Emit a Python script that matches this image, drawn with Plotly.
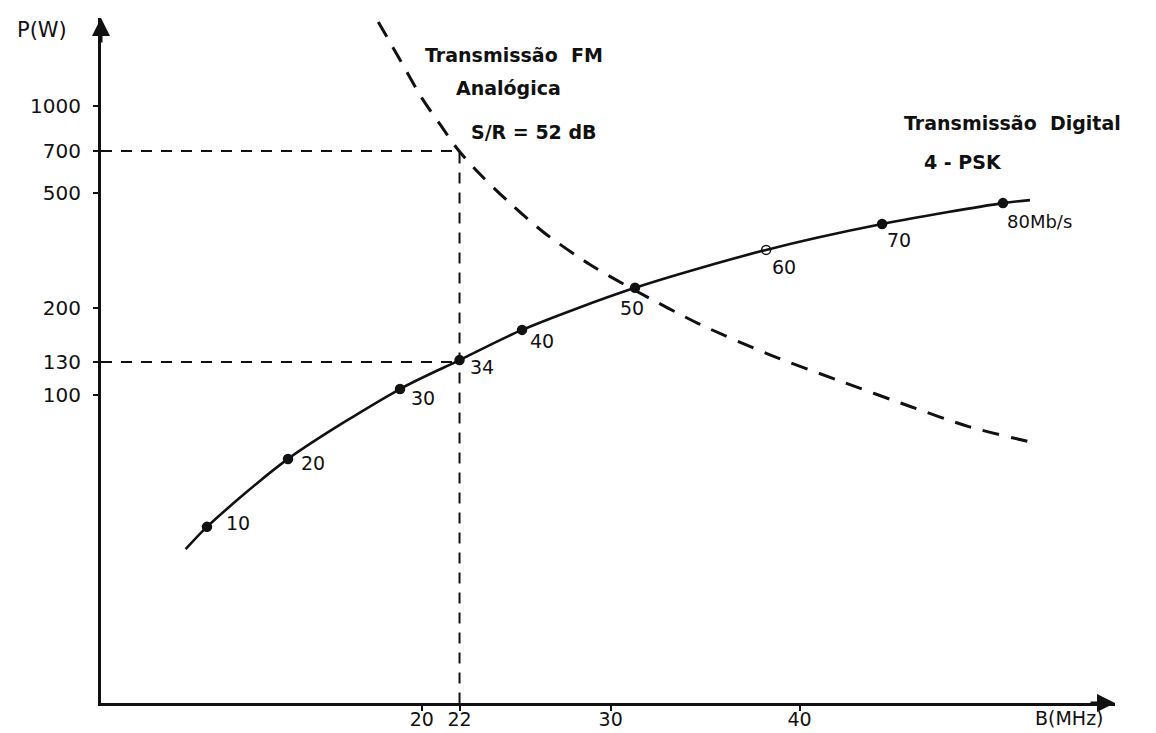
import math
import plotly.graph_objects as go

# ---------------- data ----------------
# 4-PSK digital transmission: bit-rate labels, bandwidth B (MHz), power P (W)
bitrate_labels = ["10", "20", "30", "34", "40", "50", "60", "70", "80Mb/s"]
digital_B = [8.63, 12.92, 18.85, 22.0, 25.31, 31.29, 38.23, 44.37, 50.77]
digital_P = [34.9, 60.0, 104.8, 132.0, 168.0, 235.0, 318.0, 391.0, 462.0]
# ends of the drawn digital curve (beyond the marked points)
digital_start_B, digital_start_P = 7.5, 29.2
digital_end_B, digital_end_P = 52.2, 473.0

# analog FM transmission curve, S/R = 52 dB
fm_B = [17.7, 18.9, 20.0, 21.0, 21.9, 23.1, 24.7, 26.5, 28.9, 31.3, 34.7, 38.4, 42.1, 45.9, 49.0, 52.3]
fm_P = [1960, 1430, 1070, 860, 710, 580, 460, 364, 283, 230, 176, 138, 112, 91, 77.5, 68.5]

# comparison point
ref_B = 22
ref_P_fm = 700
ref_P_digital = 130

x_tickvals = [20, 22, 30, 40]
y_tickvals = [100, 130, 200, 500, 700, 1000]

# ---------------- layout constants ----------------
PAGE_OFF = 8                      # body margin of the page
W, H = 1140, 725
# plot area wanted on screen: x 101..1115, y 18..703
ML, MT = 101 - PAGE_OFF, 18 - PAGE_OFF
MR = W - (1115 - PAGE_OFF)
MB = H - (703 - PAGE_OFF)
X_MIN, X_MAX = 3.02, 56.7
YL_MIN, YL_MAX = 0.9324, 3.306
FONT = "DejaVu Sans"
INK = "#111111"


def paper_x(px):
    return (px - 101) / (1115 - 101)


def paper_y(py):
    return (703 - py) / (703 - 18)


fig = go.Figure()

# dashed reference lines (700 W / 130 W at 22 MHz)
fig.add_trace(go.Scatter(
    x=[X_MIN, ref_B, ref_B], y=[ref_P_fm, ref_P_fm, 10 ** YL_MIN],
    mode="lines", line=dict(color=INK, width=2, dash="11px,9px"),
    hoverinfo="skip", showlegend=False))
fig.add_trace(go.Scatter(
    x=[X_MIN, ref_B], y=[ref_P_digital, ref_P_digital],
    mode="lines", line=dict(color=INK, width=2, dash="11px,9px"),
    hoverinfo="skip", showlegend=False))

# analog FM curve
fig.add_trace(go.Scatter(
    x=fm_B, y=fm_P, mode="lines",
    line=dict(color=INK, width=3, dash="17px,12px", shape="spline", smoothing=0.8),
    showlegend=False))

# digital 4-PSK curve
fig.add_trace(go.Scatter(
    x=[digital_start_B] + digital_B + [digital_end_B],
    y=[digital_start_P] + digital_P + [digital_end_P],
    mode="lines", line=dict(color=INK, width=2.6, shape="spline", smoothing=0.8),
    showlegend=False))

symbols = ["circle"] * len(digital_B)
symbols[bitrate_labels.index("60")] = "circle-open"
fig.add_trace(go.Scatter(
    x=digital_B, y=digital_P, mode="markers",
    marker=dict(color=INK, size=9, symbol=symbols, line=dict(color=INK, width=1.5)),
    showlegend=False))

# point labels (pixel offsets: right, down)
label_offsets = [(31, -4), (25, 4), (23, 9), (22, 7), (20, 11), (-3, 20), (18, 17), (17, 16), (37, 18)]
annotations = []
for lab, b, p, (dx, dy) in zip(bitrate_labels, digital_B, digital_P, label_offsets):
    annotations.append(dict(
        x=b, y=math.log10(p), xref="x", yref="y", text=lab, showarrow=False,
        xshift=dx, yshift=-dy, font=dict(family=FONT, size=19 if lab != "80Mb/s" else 18, color=INK)))

captions = [
    ("Transmissão  FM", 514, 55, "center", 19, "bold"),
    ("Analógica", 508, 88, "center", 19, "bold"),
    ("S/R = 52 dB", 534, 132, "center", 19, "bold"),
    ("Transmissão  Digital", 902, 123, "left", 19, "bold"),
    ("4 - PSK", 922, 162, "left", 19, "bold"),
    ("P(W)", 42, 30, "center", 21, "normal"),
    ("B(MHz)", 1069, 718, "center", 19, "normal"),
]
for txt, px, py, anchor, size, weight in captions:
    annotations.append(dict(
        x=paper_x(px), y=paper_y(py), xref="paper", yref="paper", text=txt,
        showarrow=False, xanchor=anchor, yanchor="middle",
        font=dict(family=FONT, size=size, color=INK, weight=weight)))

# axis arrowheads
annotations.append(dict(x=0, y=1, xref="paper", yref="paper", ax=0, ay=26, axref="pixel", ayref="pixel",
                        showarrow=True, arrowhead=2, arrowsize=1.2, arrowwidth=3, arrowcolor=INK, text=""))
annotations.append(dict(x=1, y=0, xref="paper", yref="paper", ax=-26, ay=0, axref="pixel", ayref="pixel",
                        showarrow=True, arrowhead=2, arrowsize=1.2, arrowwidth=3, arrowcolor=INK, text=""))

fig.update_layout(
    width=W, height=H, margin=dict(l=ML, r=MR, t=MT, b=MB, pad=0, autoexpand=False),
    paper_bgcolor="white", plot_bgcolor="white",
    font=dict(family=FONT, color=INK),
    annotations=annotations,
    xaxis=dict(range=[X_MIN, X_MAX], tickvals=x_tickvals, ticktext=[str(v) for v in x_tickvals],
               automargin=False,
               showgrid=False, zeroline=False, showline=True, linecolor=INK, linewidth=3,
               ticks="outside", ticklen=5, tickwidth=2, tickcolor=INK, ticklabelstandoff=-8,
               tickfont=dict(family=FONT, size=19, color=INK)),
    yaxis=dict(type="log", range=[YL_MIN, YL_MAX], tickvals=y_tickvals, ticktext=[str(v) for v in y_tickvals],
               automargin=False,
               showgrid=False, zeroline=False, showline=True, linecolor=INK, linewidth=3,
               ticks="outside", ticklen=5, tickwidth=2, tickcolor=INK, ticklabelstandoff=8,
               tickfont=dict(family=FONT, size=20, color=INK)),
)

fig.write_html("out.html")
